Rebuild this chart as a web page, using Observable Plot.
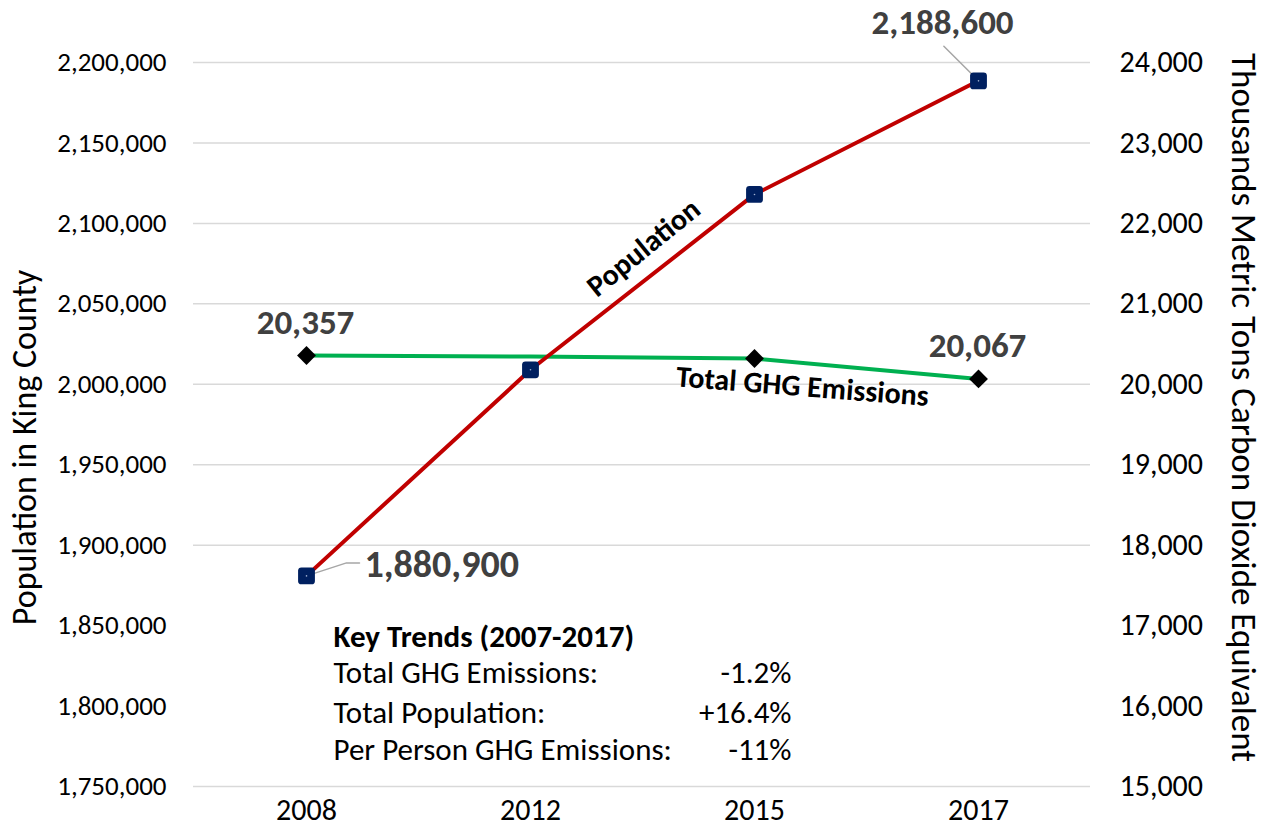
<!DOCTYPE html>
<html>
<head>
<meta charset="utf-8">
<script src="https://cdn.jsdelivr.net/npm/d3@7"></script>
<script src="https://cdn.jsdelivr.net/npm/@observablehq/plot@0.6"></script>
<style>
  html, body { margin: 0; padding: 0; background: #fff; }
  #chart { width: 1264px; height: 829px; }
</style>
</head>
<body>
<div id="chart"></div>
<script>
// ---- data ----
const years = ["2008", "2012", "2015", "2017"];
const population = [1880900, 2009000, 2118000, 2188600];
const emissions = [20357, 20345, 20320, 20067];
const emissionMarkerYears = ["2008", "2015", "2017"];
const popTicks = [1750000, 1800000, 1850000, 1900000, 1950000, 2000000, 2050000, 2100000, 2150000, 2200000];
const emisTicks = [15000, 16000, 17000, 18000, 19000, 20000, 21000, 22000, 23000, 24000];
const hiddenGrid = [1800000, 1850000]; // covered by the Key Trends text box
const trendTitle = "Key Trends (2007-2017)";
const trendLabels = ["Total GHG Emissions:", "Total Population:", "Per Person GHG Emissions:"];
const trendValues = ["-1.2%", "+16.4%", "-11%"];
const leftTitle = "Population in King County";
const rightTitle = "Thousands Metric Tons Carbon Dioxide Equivalent";

// map the right (emissions) axis onto the left (population) scale
const popMin = popTicks[0], popMax = popTicks[popTicks.length - 1];
const emMin = emisTicks[0], emMax = emisTicks[emisTicks.length - 1];
const k = (popMax - popMin) / (emMax - emMin);
const toPop = e => popMin + (e - emMin) * k;
const toEm = p => emMin + (p - popMin) / k;

const popData = years.map((y, i) => ({year: y, value: population[i]}));
const emData = years.map((y, i) => ({year: y, value: emissions[i], pv: toPop(emissions[i])}));

const fmt = d3.format(",");
const FONT = "Carlito, Lato, 'Noto Sans', sans-serif";

const roundedSquare = {
  draw(ctx, size) {
    const s = Math.sqrt(size), h = s / 2, r = s * 0.2;
    ctx.moveTo(-h + r, -h);
    ctx.arcTo(h, -h, h, h, r);
    ctx.arcTo(h, h, -h, h, r);
    ctx.arcTo(-h, h, -h, -h, r);
    ctx.arcTo(-h, -h, h, -h, r);
    ctx.closePath();
  }
};
const straightLeader = { draw(ctx, l) { ctx.moveTo(0, 0); ctx.lineTo(0, -l); } };
const elbowLeader = { draw(ctx) { ctx.moveTo(0, 0); ctx.lineTo(40, -13); ctx.lineTo(53, -13); } };

const last = popData.length - 1;
const trendRowDy = [611, 651, 688];

const chart = Plot.plot({
  width: 1264,
  height: 829,
  marginLeft: 193,
  marginRight: 174,
  marginTop: 62,
  marginBottom: 43,
  style: {fontFamily: FONT, fontSize: "24px", color: "#000", background: "#fff"},
  x: {domain: years, type: "band", padding: 0},
  y: {domain: [popMin, popMax]},
  marks: [
    Plot.ruleY(popTicks.filter(t => !hiddenGrid.includes(t)), {stroke: "#d9d9d9", strokeWidth: 1.5}),
    Plot.axisX({tickSize: 0, tickPadding: 12, fontSize: 30, label: null}),
    Plot.axisY({ticks: popTicks, tickFormat: fmt, tickSize: 0, tickPadding: 27, label: null, fontSize: 27}),
    Plot.axisY({anchor: "right", ticks: popTicks, tickFormat: p => fmt(Math.round(toEm(p))), tickSize: 0, tickPadding: 29, label: null, fontSize: 30}),
    // axis titles
    Plot.text([leftTitle], {frameAnchor: "left", text: d => d, rotate: -90, textAnchor: "middle", lineAnchor: "middle", dx: -168, dy: 23, fontSize: 34, fill: "#000"}),
    Plot.text([rightTitle], {frameAnchor: "right", text: d => d, rotate: 90, textAnchor: "middle", lineAnchor: "middle", dx: 153, dy: -17, fontSize: 35, fill: "#000"}),
    // series
    Plot.line(emData, {x: "year", y: "pv", stroke: "#00B050", strokeWidth: 4}),
    Plot.line(popData, {x: "year", y: "value", stroke: "#C00000", strokeWidth: 4}),
    // leaders
    Plot.vector([popData[last]], {x: "year", y: "value", length: 49, rotate: -45, anchor: "start", shape: straightLeader, stroke: "#a6a6a6", strokeWidth: 1.5}),
    Plot.vector([popData[0]], {x: "year", y: "value", length: 42, rotate: 0, anchor: "start", shape: elbowLeader, stroke: "#a6a6a6", strokeWidth: 1.5}),
    // markers
    Plot.dot(emData.filter(d => emissionMarkerYears.includes(d.year)), {x: "year", y: "pv", symbol: "diamond2", r: 8.5, fill: "#000", stroke: "none"}),
    Plot.dot(popData, {x: "year", y: "value", symbol: roundedSquare, r: 9.5, fill: "#002060", stroke: "none"}),
    Plot.dot(popData, {x: "year", y: "value", r: 0.8, fill: "#9fb0d0", stroke: "none"}),
    // data labels
    Plot.text([popData[last]], {x: "year", y: "value", text: d => fmt(d.value), dx: -36, dy: -58, fontSize: 35, fontWeight: "bold", fill: "#404040"}),
    Plot.text([popData[0]], {x: "year", y: "value", text: d => fmt(d.value), dx: 58, dy: -11, textAnchor: "start", fontSize: 38, fontWeight: "bold", fill: "#404040"}),
    Plot.text([emData[0], emData[last]], {x: "year", y: "pv", text: d => fmt(d.value), dx: -1, dy: -33, fontSize: 35, fontWeight: "bold", fill: "#404040"}),
    // series labels
    Plot.text([popData[1]], {x: "year", y: "value", text: () => "Population", dx: 113, dy: -122, rotate: -39, fontSize: 30, fontWeight: "bold", fill: "#000"}),
    Plot.text([emData[2]], {x: "year", y: "pv", text: () => "Total GHG Emissions", dx: 48, dy: 28, rotate: 4.5, fontSize: 30, fontWeight: "bold", fill: "#000"}),
    // key trends box
    Plot.text([trendTitle], {frameAnchor: "top-left", text: d => d, dx: 140, dy: 575, textAnchor: "start", lineAnchor: "middle", fontSize: 31, fontWeight: "bold", fill: "#000"}),
    ...trendLabels.map((t, i) => Plot.text([t], {frameAnchor: "top-left", text: d => d, dx: 140, dy: trendRowDy[i], textAnchor: "start", lineAnchor: "middle", fontSize: 31, fill: "#000"})),
    ...trendValues.map((t, i) => Plot.text([t], {frameAnchor: "top-left", text: d => d, dx: 598, dy: trendRowDy[i], textAnchor: "end", lineAnchor: "middle", fontSize: 31, fill: "#000"}))
  ]
});
document.getElementById("chart").appendChild(chart);
</script>
</body>
</html>
